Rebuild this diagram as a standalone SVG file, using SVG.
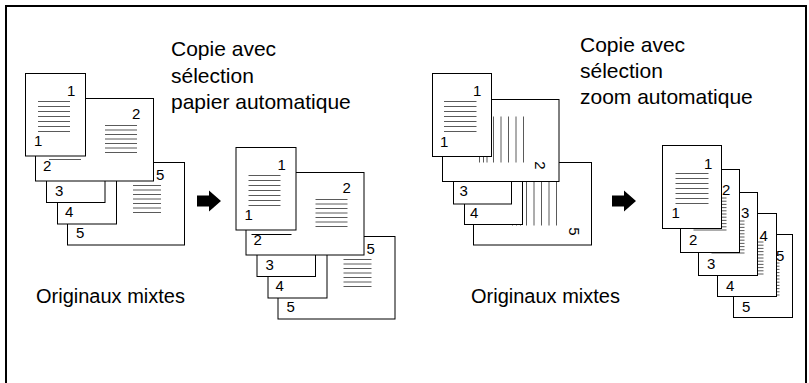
<svg xmlns="http://www.w3.org/2000/svg" xmlns:xlink="http://www.w3.org/1999/xlink" width="809" height="383" viewBox="0 0 809 383">
  <style>
    .pg { fill: #fff; stroke: #000; stroke-width: 1; }
    .ln { stroke: #5a5a5a; stroke-width: 1; fill: none; }
    .num { font-family: "Liberation Sans", Arial, sans-serif; font-size: 15px; fill: #000; }
    .ttl { font-family: "Liberation Sans", Arial, sans-serif; font-size: 21px; fill: #000; }
    .lbl { font-family: "Liberation Sans", Arial, sans-serif; font-size: 20px; fill: #000; }
    .frame { stroke: #000; stroke-width: 2; fill: none; }
  </style>
  <defs>
    <!-- block arrow pointing right, origin at its left middle -->
    <path id="arrow" d="M0,-5.5 H12 V-10.5 L24,0 L12,10.5 V5.5 H0 Z" fill="#000"/>
    <!-- stack of mixed originals, pages drawn back to front -->
    <g id="mixed-stack">
      <rect class="pg" x="67.5" y="162.5" width="117" height="82.5"/>
      <path class="ln" d="M133,185.5 H161 M133,190 H161 M133,194.5 H161 M133,199 H161 M133,203.5 H161 M133,208 H161 M133,212.5 H161"/>
      <text class="num" x="156" y="180">5</text>
      <text class="num" x="76" y="238">5</text>
      <rect class="pg" x="57.5" y="150" width="59" height="74"/>
      <text class="num" x="65" y="217">4</text>
      <rect class="pg" x="46.5" y="140" width="58.5" height="62.5"/>
      <text class="num" x="55" y="196">3</text>
      <rect class="pg" x="35.5" y="98.5" width="118" height="82.5"/>
      <path class="ln" d="M105,125.5 H137 M105,130 H137 M105,134.5 H137 M105,139 H137 M105,143.5 H137 M105,148 H137 M105,152.5 H137"/>
      <text class="num" x="132" y="119">2</text>
      <text class="num" x="43" y="171">2</text>
      <rect class="pg" x="25.5" y="73.5" width="60" height="82.5"/>
      <path class="ln" d="M38,101.5 H70 M38,106.5 H70 M38,111.5 H70 M38,116.5 H70 M38,121.5 H70 M38,126.5 H70 M38,131.5 H70"/>
      <text class="num" x="67" y="96">1</text>
      <text class="num" x="34" y="146">1</text>
    </g>
  </defs>

  <!-- figure frame, open at the bottom -->
  <path class="frame" d="M6,383 V6 H806 V383"/>

  <!-- left: automatic paper selection -->
  <g id="title-paper">
    <text class="ttl" x="171" y="56">Copie avec</text>
    <text class="ttl" x="171" y="83">sélection</text>
    <text class="ttl" x="171" y="109">papier automatique</text>
  </g>
  <g id="originals-paper">
    <use xlink:href="#mixed-stack"/>
    <path class="ln" d="M49,159.5 H81"/>
  </g>
  <text id="caption-paper" class="lbl" x="36" y="303">Originaux mixtes</text>
  <g id="copies-paper" transform="translate(210.5,74)">
    <use xlink:href="#mixed-stack"/>
    <path d="M41,160.5 H81" stroke="#000" stroke-width="1"/>
  </g>

  <!-- right: automatic zoom selection -->
  <g id="title-zoom">
    <text class="ttl" x="580" y="52">Copie avec</text>
    <text class="ttl" x="580" y="78">sélection</text>
    <text class="ttl" x="580" y="104">zoom automatique</text>
  </g>
  <g id="originals-zoom">
    <rect class="pg" x="473.5" y="162.5" width="118" height="82.5"/>
    <path class="ln" d="M512.5,179 V225.5 M516.5,179 V225.5 M520.5,179 V225.5 M526.5,179 V225.5 M534,179 V225.5 M541.5,179 V225.5 M549,179 V225.5 M556.5,179 V225.5"/>
    <text class="num" text-anchor="middle" transform="translate(569,231.5) rotate(90)">5</text>
    <rect class="pg" x="464.5" y="150" width="58" height="74.5"/>
    <text class="num" x="470" y="218">4</text>
    <rect class="pg" x="453.5" y="140" width="58" height="64"/>
    <text class="num" x="459.5" y="196">3</text>
    <rect class="pg" x="442.5" y="99.5" width="116.5" height="82"/>
    <path class="ln" d="M479.5,116.5 V162.5 M483.5,116.5 V162.5 M487,116.5 V162.5 M493.5,116.5 V162.5 M501,116.5 V162.5 M508.5,116.5 V162.5 M516,116.5 V162.5 M523.5,116.5 V162.5"/>
    <text class="num" text-anchor="middle" transform="translate(535,165.5) rotate(90)">2</text>
    <rect class="pg" x="432.5" y="73.5" width="59" height="83"/>
    <path class="ln" d="M444,101.5 H476.5 M444,106.5 H476.5 M444,111.5 H476.5 M444,116.5 H476.5 M444,121.5 H476.5 M444,126.5 H476.5 M444,131.5 H476.5"/>
    <text class="num" x="473" y="96">1</text>
    <text class="num" x="440" y="147">1</text>
  </g>
  <text id="caption-zoom" class="lbl" x="471" y="303">Originaux mixtes</text>
  <g id="copies-zoom">
    <g id="copy-5" transform="translate(733.5,234.5)">
      <rect class="pg" width="59" height="83"/>
      <path class="ln" d="M13,28.5 H46 M13,31.7 H46 M13,34.9 H46 M13,38.1 H46 M13,41.3 H46 M13,44.5 H46 M13,47.7 H46 M13,50.9 H46 M13,54.1 H46 M13,57.3 H46 M13,60.5 H46"/>
      <text class="num" x="42.5" y="26">5</text>
      <text class="num" x="8.5" y="77">5</text>
    </g>
    <g id="copy-4" transform="translate(717.5,213.5)">
      <rect class="pg" width="59" height="83"/>
      <path class="ln" d="M13,28.5 H46 M13,31.7 H46 M13,34.9 H46 M13,38.1 H46 M13,41.3 H46 M13,44.5 H46 M13,47.7 H46 M13,50.9 H46 M13,54.1 H46 M13,57.3 H46 M13,60.5 H46"/>
      <text class="num" x="42" y="27">4</text>
      <text class="num" x="8.5" y="77">4</text>
    </g>
    <g id="copy-3" transform="translate(698.5,192.5)">
      <rect class="pg" width="59" height="83"/>
      <path class="ln" d="M13,28.5 H46 M13,31.7 H46 M13,34.9 H46 M13,38.1 H46 M13,41.3 H46 M13,44.5 H46 M13,47.7 H46 M13,50.9 H46 M13,54.1 H46 M13,57.3 H46 M13,60.5 H46"/>
      <text class="num" x="42.5" y="25.5">3</text>
      <text class="num" x="8.5" y="76">3</text>
    </g>
    <g id="copy-2" transform="translate(680.5,169.5)">
      <rect class="pg" width="59" height="83"/>
      <path class="ln" d="M13,28.5 H46 M13,31.7 H46 M13,34.9 H46 M13,38.1 H46 M13,41.3 H46 M13,44.5 H46 M13,47.7 H46 M13,50.9 H46 M13,54.1 H46 M13,57.3 H46 M13,60.5 H46"/>
      <text class="num" x="41.5" y="25.5">2</text>
      <text class="num" x="8.5" y="75">2</text>
    </g>
    <g id="copy-1" transform="translate(662.5,145.5)">
      <rect class="pg" width="59" height="83"/>
      <path class="ln" d="M13,28 H46 M13,33 H46 M13,38 H46 M13,43 H46 M13,48 H46 M13,53 H46 M13,58 H46"/>
      <text class="num" x="41.5" y="23">1</text>
      <text class="num" x="9" y="72">1</text>
    </g>
  </g>

  <!-- process arrows -->
  <g id="connectors">
    <use xlink:href="#arrow" x="197" y="201"/>
    <use xlink:href="#arrow" x="612" y="201"/>
  </g>
</svg>
